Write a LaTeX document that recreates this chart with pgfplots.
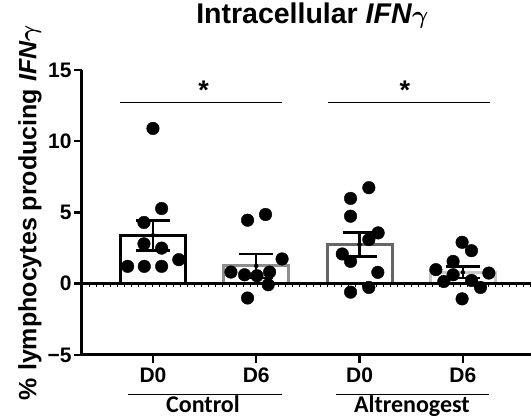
\documentclass[border=0pt]{standalone}
\usepackage{fontspec}
\setmainfont{Liberation Sans}
\newfontfamily\calibri{Carlito}
\usepackage{pgfplots}
\pgfplotsset{compat=1.18}
\definecolor{grpA}{HTML}{000000}
\definecolor{grpB}{HTML}{8E8E8E}
\definecolor{grpC}{HTML}{666666}
\definecolor{grpD}{HTML}{C8C8C8}
\newcommand{\gam}{{\boldmath$\gamma$}}

\begin{document}
\begin{tikzpicture}
\begin{axis}[
  name=ax, at={(0,0)}, anchor=south west,
  scale only axis, width=449pt, height=285pt,
  xmin=-0.687, xmax=3.66, ymin=-5, ymax=15,
  axis x line*=bottom, axis y line*=left,
  axis line style={line width=3pt},
  tick align=outside, major tick length=8pt,
  tick style={line width=2.5pt, black},
  xtick={0,1,2,3}, xticklabels={D0,D6,D0,D6},
  xticklabel style={font=\bfseries\fontsize{21}{21}\selectfont, yshift=-1pt},
  ytick={-5,0,5,10,15}, yticklabels={−5,0,5,10,15},
  yticklabel style={font=\bfseries\fontsize{21}{21}\selectfont, xshift=1pt},
  clip=false,
]
% bars (mean)
\addplot[ybar, bar width=65pt, bar shift=0pt, draw=grpA, fill=white, line width=3.5pt] coordinates {(0,3.4)};
\addplot[ybar, bar width=65pt, bar shift=0pt, draw=grpB, fill=white, line width=3pt] coordinates {(1,1.25)};
\addplot[ybar, bar width=65pt, bar shift=0pt, draw=grpC, fill=white, line width=3pt] coordinates {(2,2.75)};
\addplot[ybar, bar width=65pt, bar shift=0pt, draw=grpD, fill=white, line width=3pt] coordinates {(3,0.8)};

% zero line
\addplot[sharp plot, black, line width=2.5pt] coordinates {(-0.687,0) (3.66,0)};
\addplot[sharp plot, black, line width=3pt, dash pattern=on 1pt off 6pt] coordinates {(-0.687,-0.12) (3.66,-0.12)};

% individual animals
\addplot[only marks, mark=*, mark size=6.3pt, black] coordinates {
  (0,10.9) (0.084,5.28) (-0.087,4.3) (-0.087,2.8) (0.084,2.5)
  (-0.245,1.22) (-0.084,1.22) (0.084,1.22) (0.25,1.69)};
\addplot[only marks, mark=*, mark size=6.3pt, black] coordinates {
  (0.916,4.46) (1.09,4.86) (1.25,1.74) (0.755,0.82) (0.887,0.63)
  (1.007,0.56) (1.129,0.82) (1.116,-0.07) (0.916,-1.0)};
\addplot[only marks, mark=*, mark size=6.3pt, black] coordinates {
  (2.09,6.74) (1.913,5.99) (1.913,4.74) (2.18,3.57) (2.09,3.1)
  (1.833,2.09) (1.913,1.57) (2.177,0.8) (2.09,-0.26) (1.913,-0.59)};
\addplot[only marks, mark=*, mark size=6.3pt, black] coordinates {
  (2.993,2.91) (3.084,2.32) (2.906,1.57) (2.739,0.99) (3.252,0.75)
  (2.906,0.63) (2.816,0.16) (3.084,0.23) (3.171,-0.26) (2.993,-1.06)};

% SEM
\addplot[only marks, mark=none, black,
  error bars/.cd, y dir=both, y explicit,
  error bar style={line width=2.5pt, black},
  error mark options={rotate=90, mark size=17pt, line width=2.5pt, black}]
  coordinates {(0,3.4) +- (0,1.05) (1,1.25) +- (0,0.85) (2,2.75) +- (0,0.85) (3,0.8) +- (0,0.4)};

% significance
\draw[line width=1pt] (axis cs:-0.32,12.75) -- (axis cs:1.25,12.75);
\draw[line width=1pt] (axis cs:1.694,12.75) -- (axis cs:3.26,12.75);
\node[anchor=base, font=\bfseries\fontsize{27}{27}\selectfont] at (axis cs:0.49,12.95) {*};
\node[anchor=base, font=\bfseries\fontsize{27}{27}\selectfont] at (axis cs:2.44,12.95) {*};

% groups
\draw[line width=1pt] (axis cs:-0.242,-7.74) -- (axis cs:1.249,-7.74);
\draw[line width=1pt] (axis cs:1.771,-7.74) -- (axis cs:3.253,-7.74);
\node[anchor=base, font=\calibri\bfseries\fontsize{24}{24}\selectfont] at (axis cs:0.484,-9.05) {Control};
\node[anchor=base, font=\calibri\bfseries\fontsize{24}{24}\selectfont] at (axis cs:2.507,-9.05) {Altrenogest};

% title and y label
\node[font=\bfseries\fontsize{28.5}{28.5}\selectfont] at (rel axis cs:0.513,1.19) {Intracellular \textit{IFN}\gam};
\node[rotate=90, font=\bfseries\fontsize{25}{25}\selectfont] at (rel axis cs:-0.116,0.5) {\% lymphocytes producing \textit{IFN}\gam};
\end{axis}
\pgfresetboundingbox
\useasboundingbox (-82pt,-65pt) rectangle (449pt,355pt);
\end{tikzpicture}
\end{document}
